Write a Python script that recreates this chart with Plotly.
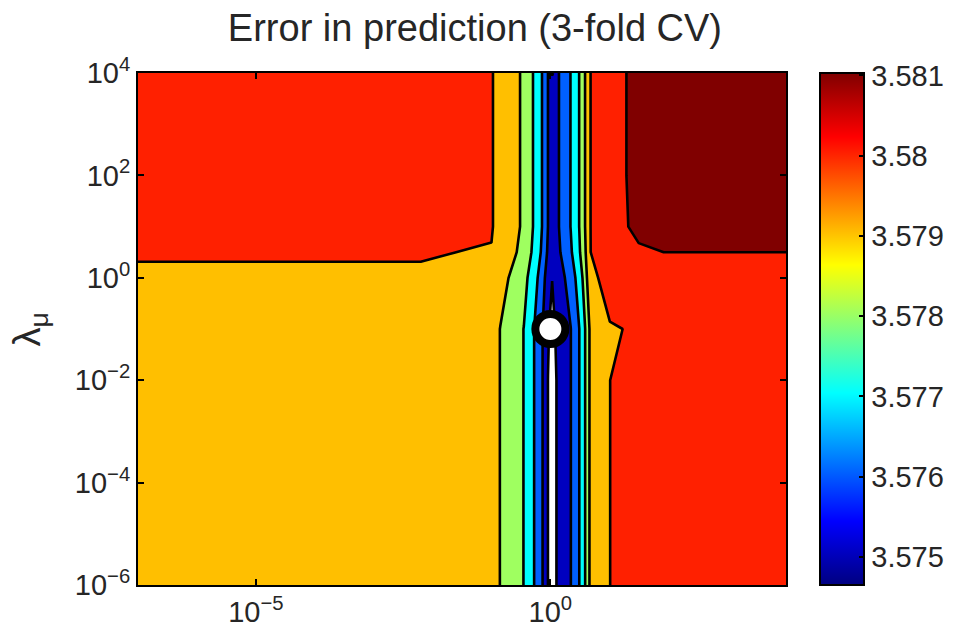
import plotly.graph_objects as go

# ---------------- data ----------------
# grid columns: log10 of the x-axis regularisation parameter
x_exp = [-7, -2.2, -1.0, -0.85, -0.51, -0.45, -0.28, -0.135, -0.04, 0.03, 0.105,
         0.148, 0.345, 0.49, 0.59, 0.665, 1.01, 1.27, 1.5, 2.0, 4.0]
# grid rows: log10 of lambda_mu
y_exp = [-6, -2, -1, 0, 0.5, 1, 2, 3.85, 4]

# prediction error (3-fold CV), one list per row of y_exp
err_row_m6 = [3.5796, 3.5796, 3.5794, 3.57898, 3.57815, 3.57798, 3.57703, 3.57603, 3.57499, 3.57465, 3.57501,
              3.57518, 3.57598, 3.57699, 3.57799, 3.57902, 3.57999, 3.5805, 3.5805, 3.5805, 3.5805]
err_row_m2 = [3.5796, 3.5796, 3.5794, 3.57898, 3.57815, 3.57798, 3.57703, 3.57603, 3.57499, 3.57465, 3.57501,
              3.57518, 3.57598, 3.57699, 3.57799, 3.57902, 3.57999, 3.5805, 3.5805, 3.5805, 3.5805]
err_row_m1 = [3.5796, 3.5796, 3.5794, 3.57898, 3.57815, 3.57798, 3.57703, 3.57603, 3.5751, 3.5747, 3.57515,
              3.57525, 3.57598, 3.57699, 3.57799, 3.57902, 3.57995, 3.58001, 3.5805, 3.5805, 3.5805]
err_row_0 = [3.57995, 3.57995, 3.57969, 3.57933, 3.57853, 3.57832, 3.57744, 3.57644, 3.57544, 3.57502, 3.57536,
             3.57555, 3.57645, 3.57745, 3.57845, 3.57978, 3.5803, 3.5805, 3.5805, 3.5805, 3.5805]
err_row_05 = [3.58003, 3.58003, 3.57997, 3.57964, 3.57886, 3.57862, 3.5778, 3.57681, 3.57584, 3.57527, 3.57566,
              3.57589, 3.57686, 3.57786, 3.57886, 3.57997, 3.5805, 3.5807, 3.580989, 3.581002, 3.581002]
err_row_1 = [3.5806, 3.5806, 3.58005, 3.57976, 3.57899, 3.57873, 3.57793, 3.57695, 3.57599, 3.5754, 3.57578,
             3.57601, 3.57702, 3.57801, 3.57901, 3.57997, 3.58056, 3.580994, 3.58102, 3.58103, 3.58103]
err_row_2 = [3.5806, 3.5806, 3.58005, 3.57976, 3.57899, 3.57873, 3.57793, 3.57695, 3.57599, 3.5754, 3.57578,
             3.57601, 3.57702, 3.57801, 3.57901, 3.57997, 3.58056, 3.580998, 3.58102, 3.58103, 3.58103]
err_row_385 = [3.5806, 3.5806, 3.58005, 3.57976, 3.57899, 3.57873, 3.57793, 3.57695, 3.57599, 3.5754, 3.57578,
               3.57601, 3.57702, 3.57801, 3.57901, 3.57997, 3.58056, 3.580998, 3.58102, 3.58103, 3.58103]
err_row_4 = [3.5806, 3.5806, 3.58005, 3.57976, 3.57899, 3.57873, 3.57793, 3.57695, 3.57599, 3.5748, 3.57578,
             3.57601, 3.57702, 3.57801, 3.57901, 3.57997, 3.58056, 3.580998, 3.58102, 3.58103, 3.58103]
err = [err_row_m6, err_row_m2, err_row_m1, err_row_0, err_row_05,
       err_row_1, err_row_2, err_row_385, err_row_4]

# contour levels and colour range
level_start = 3.575
level_end = 3.581
level_step = 0.001
err_min = 3.57465
err_max = 3.58103

# best parameter pair (log10 values)
best_x_exp = [0]
best_y_exp = [-1]

# tick labels
x_tick_exp = [-5, 0]
y_tick_exp = [-6, -4, -2, 0, 2, 4]
cbar_ticks = [3.575, 3.576, 3.577, 3.578, 3.579, 3.58, 3.581]
cbar_ticktext = ["3.575", "3.576", "3.577", "3.578", "3.579", "3.58", "3.581"]

# ---------------- styling ----------------
FONT = "Liberation Sans, Arial, Helvetica, sans-serif"
TXT = "#262626"

# fill colour of each band (below first level, then one per level) - MATLAB jet
band_colors = ["#FFFFFF", "#0000BF", "#0060FF", "#00FFFF", "#9FFF60", "#FFBF00", "#FF2000", "#800000"]
n_bands = len(band_colors) - 1
fill_scale = [[i / n_bands, c] for i, c in enumerate(band_colors)]

jet = [[0, "#000080"], [0.125, "#0000FF"], [0.375, "#00FFFF"],
       [0.625, "#FFFF00"], [0.875, "#FF0000"], [1, "#800000"]]


def pow_label(e):
    s = str(e).replace("-", "\u2212")
    return "10<sup>" + s + "</sup>"


fig = go.Figure()

fig.add_trace(go.Contour(
    x=x_exp, y=y_exp, z=err,
    autocontour=False,
    contours=dict(start=level_start, end=level_end + level_step / 2, size=level_step,
                  coloring="fill", showlines=True),
    line=dict(color="black", width=2.6, smoothing=0),
    colorscale=fill_scale,
    showscale=False,
    hoverinfo="skip",
))

# continuous jet colour bar
fig.add_trace(go.Scatter(
    x=best_x_exp, y=best_y_exp, mode="markers",
    marker=dict(size=1, opacity=0, color=[err_min], cmin=err_min, cmax=err_max,
                colorscale=jet, showscale=True,
                colorbar=dict(
                    x=(820 - 138) / 648, xanchor="left", xref="paper", xpad=0,
                    y=0.5, yanchor="middle", len=1, lenmode="fraction", ypad=0,
                    thickness=44, thicknessmode="pixels",
                    outlinewidth=2, outlinecolor="black",
                    ticks="inside", ticklen=6, tickwidth=2, tickcolor="black",
                    tickvals=cbar_ticks, ticktext=cbar_ticktext,
                    tickfont=dict(family=FONT, size=29, color=TXT),
                )),
    hoverinfo="skip", showlegend=False,
))

# optimum marker
fig.add_trace(go.Scatter(
    x=best_x_exp, y=best_y_exp, mode="markers",
    marker=dict(size=30, color="white", line=dict(color="black", width=8)),
    hoverinfo="skip", showlegend=False,
))

fig.update_layout(
    width=955, height=636,
    margin=dict(l=138, r=169, t=73, b=51, autoexpand=False),
    paper_bgcolor="white", plot_bgcolor="white",
    font=dict(family=FONT, color=TXT),
    showlegend=False,
    title=dict(text="Error in prediction (3-fold CV)", x=0.52, xref="paper", xanchor="center",
               y=1 - 28 / 636, yref="container", yanchor="middle",
               font=dict(family=FONT, size=38, color=TXT)),
    xaxis=dict(range=[x_exp[0], x_exp[-1]], showgrid=False, zeroline=False,
               showline=True, linewidth=2, linecolor="black", mirror="ticks",
               ticks="inside", ticklen=6, tickwidth=2, tickcolor="black",
               tickvals=x_tick_exp, ticktext=[pow_label(e) for e in x_tick_exp],
               tickfont=dict(family=FONT, size=29, color=TXT)),
    yaxis=dict(range=[y_exp[0], y_exp[-1]], showgrid=False, zeroline=False,
               showline=True, linewidth=2, linecolor="black", mirror="ticks",
               ticks="inside", ticklen=6, tickwidth=2, tickcolor="black",
               tickvals=y_tick_exp, ticktext=[pow_label(e) for e in y_tick_exp],
               tickfont=dict(family=FONT, size=29, color=TXT)),
    annotations=[dict(text="\u03bb<sub>\u03bc</sub>", xref="paper", yref="paper",
                      x=-0.166, y=0.5, xanchor="center", yanchor="middle",
                      textangle=-90, showarrow=False,
                      font=dict(family=FONT, size=38, color=TXT))],
)

fig.write_html("out.html")
